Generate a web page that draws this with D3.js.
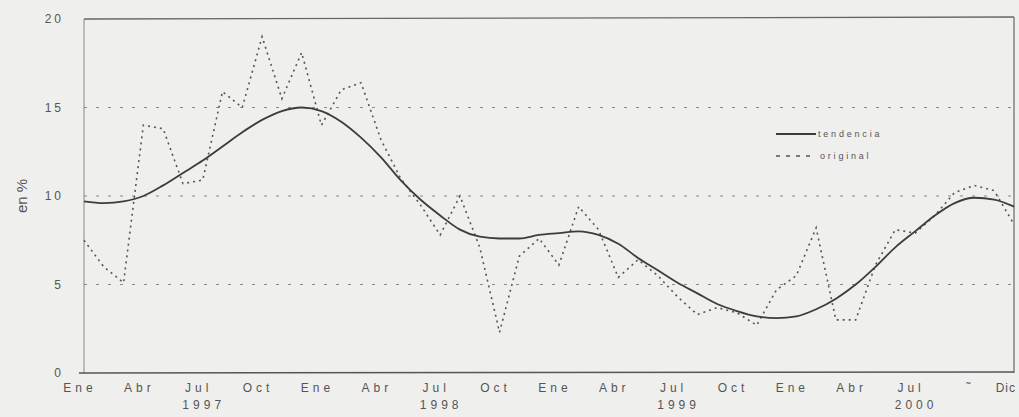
<!DOCTYPE html>
<html>
<head>
<meta charset="utf-8">
<script src="https://cdn.jsdelivr.net/npm/d3@7"></script>
<style>
  body { margin: 0; background: #efefed; }
  svg { font-family: "Liberation Sans", Arial, sans-serif; }
</style>
</head>
<body>
<svg id="chart" width="1019" height="417"></svg>
<script>
// monthly values, Ene 1997 .. Dic 2000
const tendencia = [9.7, 9.6, 9.7, 10.0, 10.6, 11.3, 12.0, 12.8, 13.6, 14.3, 14.8, 15.0,
  14.8, 14.2, 13.3, 12.2, 10.9, 9.8, 8.9, 8.1, 7.7, 7.6, 7.6, 7.8,
  7.9, 8.0, 7.8, 7.3, 6.5, 5.8, 5.1, 4.5, 3.9, 3.5, 3.2, 3.1,
  3.2, 3.6, 4.2, 5.0, 6.0, 7.1, 8.0, 8.9, 9.6, 9.9, 9.8, 9.4]
const original = [7.5, 6.0, 5.1, 14.0, 13.8, 10.7, 10.9, 15.9, 15.0, 19.0, 15.5, 18.1,
  14.0, 16.0, 16.4, 13.2, 11.0, 9.5, 7.8, 10.0, 7.1, 2.3, 6.6, 7.6,
  6.1, 9.4, 8.1, 5.4, 6.4, 5.5, 4.3, 3.3, 3.7, 3.4, 2.7, 4.7,
  5.5, 8.2, 3.0, 3.0, 6.1, 8.1, 7.9, 8.9, 10.2, 10.6, 10.3, 8.4]
// the Oct 2000 label is only a smudge in the source
const monthLabels = ['Ene', 'Abr', 'Jul', 'Oct', 'Ene', 'Abr', 'Jul', 'Oct',
  'Ene', 'Abr', 'Jul', 'Oct', 'Ene', 'Abr', 'Jul', '˜']
const years = ['1997', '1998', '1999', '2000']
const yTicks = [0, 5, 10, 15, 20]

const svg = d3.select('#chart')
const x = d3.scaleLinear().domain([0, 47]).range([84, 1014])
const y = d3.scaleLinear().domain([0, 20]).range([373, 19])
const ink = '#3c3c3c'

// dotted grid at 5, 10, 15
svg.selectAll('line.grid')
  .data(yTicks.filter(d => d > 0 && d < 20))
  .enter().append('line')
  .attr('x1', x(0)).attr('x2', x(47))
  .attr('y1', d => y(d)).attr('y2', d => y(d))
  .attr('stroke', '#8a8a8a').attr('stroke-width', 1.2)
  .attr('stroke-dasharray', '3,9')

// frame: top, right, left, bottom
svg.append('line').attr('x1', x(0)).attr('x2', x(47)).attr('y1', y(20)).attr('y2', y(20) - 2)
  .attr('stroke', '#666').attr('stroke-width', 1.3)
svg.append('line').attr('x1', x(47)).attr('x2', x(47)).attr('y1', y(20) - 2).attr('y2', y(0))
  .attr('stroke', '#666').attr('stroke-width', 1.2)
svg.append('line').attr('x1', x(0)).attr('x2', x(0)).attr('y1', y(20)).attr('y2', y(0))
  .attr('stroke', '#888').attr('stroke-width', 1)
svg.append('line').attr('x1', x(0) - 5).attr('x2', x(47)).attr('y1', y(0)).attr('y2', y(0) - 1)
  .attr('stroke', '#555').attr('stroke-width', 1.4)

// y tick labels
svg.selectAll('text.ytick')
  .data(yTicks)
  .enter().append('text')
  .attr('x', 64).attr('y', d => y(d) + 4)
  .attr('text-anchor', 'end')
  .attr('font-size', 12).attr('letter-spacing', 3)
  .attr('fill', '#555')
  .text(d => d)

svg.append('text')
  .attr('transform', 'translate(27,' + y(10) + ') rotate(-90)')
  .attr('text-anchor', 'middle')
  .attr('font-size', 15).attr('fill', '#555')
  .text('en %')

// x labels
const xTicks = d3.range(0, 46, 3)
svg.selectAll('text.month')
  .data(xTicks)
  .enter().append('text')
  .attr('x', d => x(d) - 4).attr('y', 392)
  .attr('text-anchor', 'middle')
  .attr('font-size', 12).attr('letter-spacing', 4)
  .attr('fill', '#555')
  .text((d, i) => monthLabels[i])
svg.append('text')
  .attr('x', x(47) + 2).attr('y', 392)
  .attr('text-anchor', 'end')
  .attr('font-size', 12).attr('letter-spacing', 1)
  .attr('fill', '#555')
  .text('Dic')
svg.selectAll('text.year')
  .data(years)
  .enter().append('text')
  .attr('x', (d, i) => x(6 + i * 12) + 1).attr('y', 409)
  .attr('text-anchor', 'middle')
  .attr('font-size', 12).attr('letter-spacing', 4)
  .attr('fill', '#555')
  .text(d => d)

// series
const line = d3.line().x((d, i) => x(i)).y(d => y(d))
svg.append('path').datum(original)
  .attr('d', line.curve(d3.curveLinear))
  .attr('fill', 'none').attr('stroke', '#555').attr('stroke-width', 1.6)
  .attr('stroke-dasharray', '2,4')
svg.append('path').datum(tendencia)
  .attr('d', d3.line().x((d, i) => x(i)).y(d => y(d)).curve(d3.curveMonotoneX))
  .attr('fill', 'none').attr('stroke', ink).attr('stroke-width', 1.8)

// legend
const legend = svg.append('g').attr('transform', 'translate(776,134)')
legend.append('line').attr('x1', 0).attr('x2', 40).attr('y1', 0).attr('y2', 0)
  .attr('stroke', ink).attr('stroke-width', 1.8)
legend.append('text').attr('x', 42).attr('y', 3)
  .attr('font-size', 9).attr('letter-spacing', 2.8).attr('fill', '#555')
  .text('tendencia')
legend.append('line').attr('x1', 0).attr('x2', 40).attr('y1', 22).attr('y2', 22)
  .attr('stroke', '#555').attr('stroke-width', 1.6).attr('stroke-dasharray', '4,6')
legend.append('text').attr('x', 44).attr('y', 25)
  .attr('font-size', 9).attr('letter-spacing', 2.8).attr('fill', '#555')
  .text('original')
</script>
</body>
</html>
